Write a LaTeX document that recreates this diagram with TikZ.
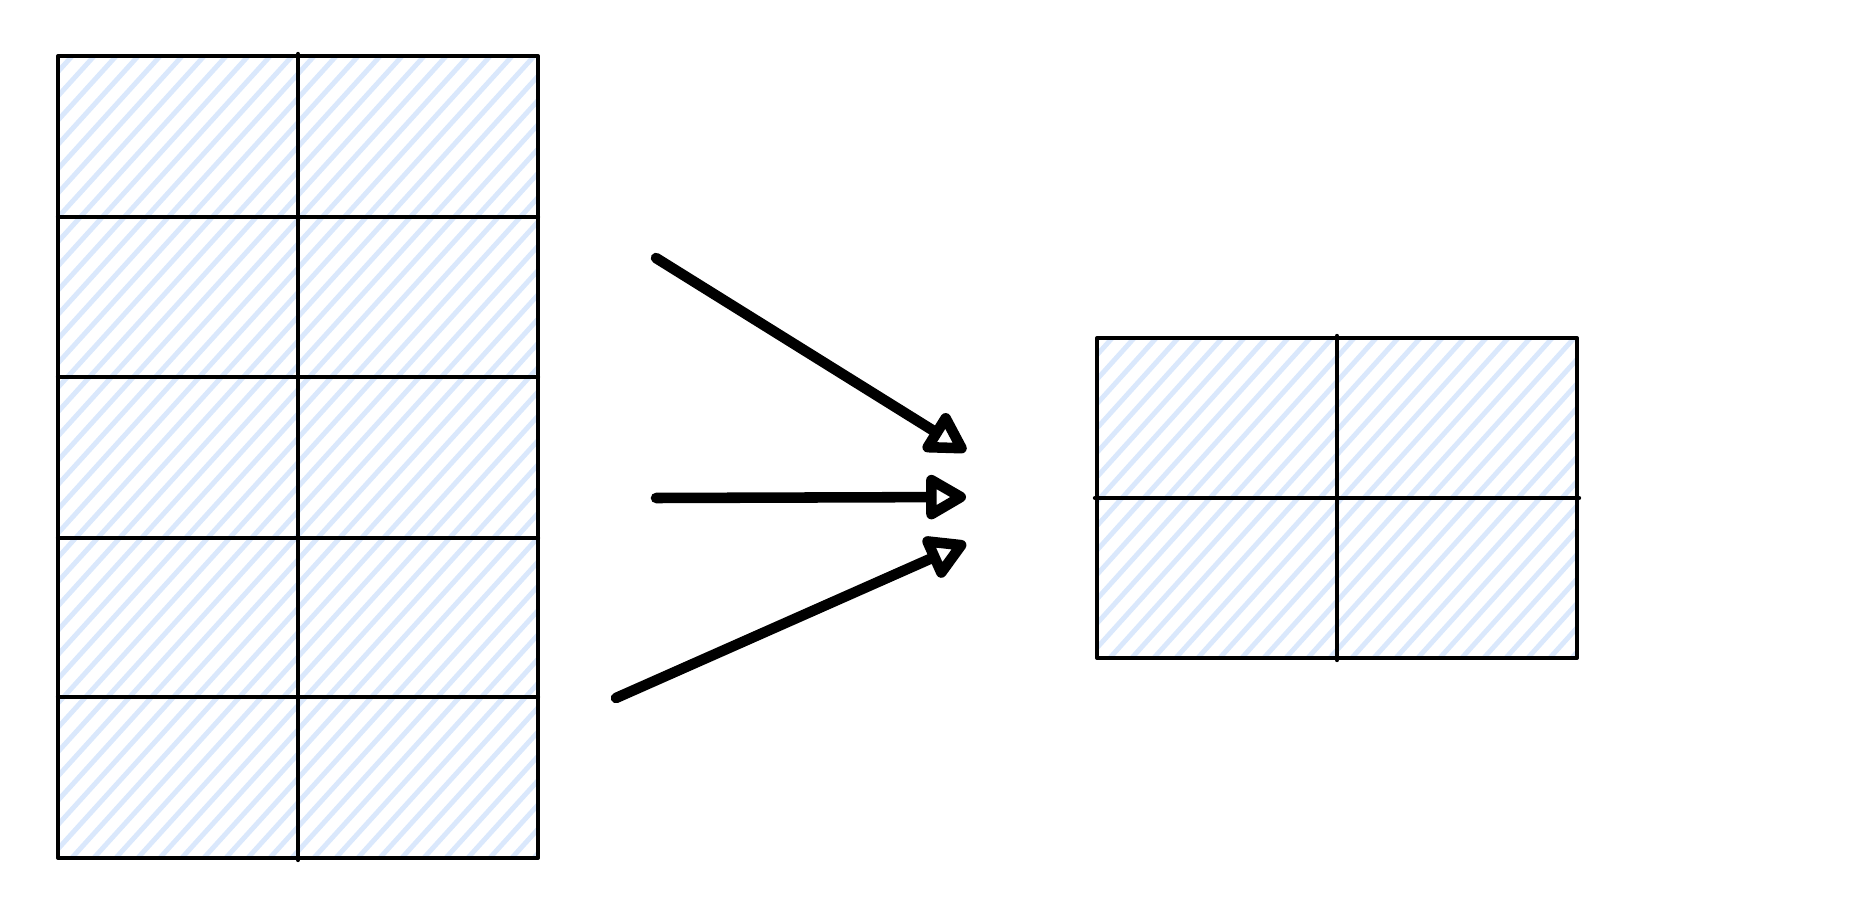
\documentclass[tikz,border=0pt]{standalone}
\usetikzlibrary{arrows.meta}
\definecolor{hatchblue}{HTML}{DAE8FC}
\tikzset{
  gridline/.style={line width=2.4pt, line cap=round, line join=round},
  hatch/.style={hatchblue, line width=2.8pt},
  flow/.style={line width=6pt, line cap=round,
    -{Triangle[open,length=26pt,width=28pt,line join=round]}},
}
\begin{document}
\begin{tikzpicture}[x=0.02cm,y=-0.02cm]
        \useasboundingbox (0,0) rectangle (1872,908);
        % hachure fills
        \begin{scope}
          \clip (58,56) rectangle (538,858);
          \foreach \i in {-700,-678,...,540} \draw[hatch] (\i,860) -- ++(730,-806);
        \end{scope}
        \begin{scope}
          \clip (1097,338) rectangle (1577,658);
          \foreach \i in {800,822,...,1580} \draw[hatch] (\i,660) -- ++(292,-324);
        \end{scope}
        % source grid, 2 x 5
        \node[draw, gridline, minimum width=9.6cm, minimum height=16.04cm] (src) at (298,457) {};
        \draw[gridline] (src.north) -- (src.south);
        \foreach \y in {217,377,538,697} \draw[gridline] (58,\y) -- (538,\y);
        % target grid, 2 x 2
        \node[draw, gridline, minimum width=9.6cm, minimum height=6.4cm] (dst) at (1337,498) {};
        \draw[gridline] (dst.north) -- (dst.south);
        \draw[gridline] (dst.west) -- (dst.east);
        % arrows
        \coordinate (s1) at (656,258);
        \coordinate (s2) at (656,498);
        \coordinate (s3) at (616,698);
        \coordinate (t1) at (966,451);
        \coordinate (t2) at (966,497);
        \coordinate (t3) at (966,543);
        \draw[flow] (s1) -- (t1);
        \draw[flow] (s2) -- (t2);
        \draw[flow] (s3) -- (t3);
      \end{tikzpicture}
\end{document}
